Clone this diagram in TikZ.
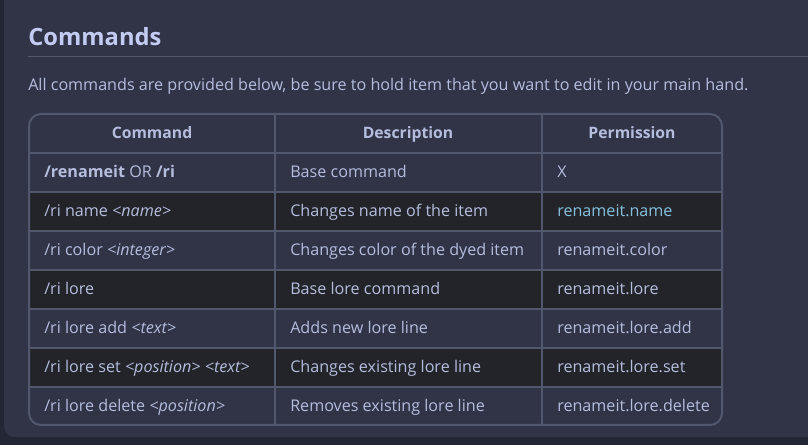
\documentclass[tikz,border=0pt]{standalone}
\usepackage{fontspec}
\setmainfont{Open Sans}
\definecolor{base}{HTML}{303446}
\definecolor{crust}{HTML}{232634}
\definecolor{rowdark}{HTML}{232429}
\definecolor{txt}{HTML}{B5BDDD}
\definecolor{head}{HTML}{C4CBF2}
\definecolor{bord}{HTML}{51576D}
\definecolor{link}{HTML}{85C1DC}
\begin{document}
\begin{tikzpicture}[x=0.75pt,y=-0.75pt,
  cell/.style={anchor=base west,text=txt,font=\fontsize{12.1}{13}\selectfont,inner sep=0},
  hcell/.style={anchor=base,text=txt,font=\fontsize{11.8}{13}\selectfont\bfseries,inner sep=0}]
\useasboundingbox (0,0) rectangle (808,445);
\clip (0,0) rectangle (808,445);
\fill[crust] (0,0) rectangle (808,445);
\fill[base,rounded corners=8] (4,-20) rectangle (830,437);
\node[anchor=base west,text=head,font=\fontsize{17.8}{20}\selectfont\bfseries,inner sep=0] (title) at (28,46) {Commands};
\draw[bord] (28,56.5) -- (808,56.5);
\node[cell] (intro) at (28,90.5) {All commands are provided below, be sure to hold item that you want to edit in your main hand.};
\begin{scope}
\clip[rounded corners=9] (29,114) rectangle (722,425);
\foreach \y in {192,270,348}{\fill[rowdark] (29,\y) rectangle (722,\y+39);}
\end{scope}
\draw[bord,line width=1.5,rounded corners=9] (29,114) rectangle (722,425);
\foreach \y in {153,192,231,270,309,348,387}{\draw[bord,line width=1.5] (29,\y) -- (722,\y);}
\draw[bord,line width=1.5] (275,114) -- (275,425);
\draw[bord,line width=1.5] (542,114) -- (542,425);
\node[hcell] (h1) at (152,138.5) {Command};
\node[hcell] (h2) at (408,138.5) {Description};
\node[hcell] (h3) at (632,138.5) {Permission};
\foreach \i/\a/\b/\c in {
 1/{\textbf{/renameit} OR \textbf{/ri}}/{Base command}/{X},
 2/{/ri name \textit{<name>}}/{Changes name of the item}/{\textcolor{link}{renameit.name}},
 3/{/ri color \textit{<integer>}}/{Changes color of the dyed item}/{renameit.color},
 4/{/ri lore}/{Base lore command}/{renameit.lore},
 5/{/ri lore add \textit{<text>}}/{Adds new lore line}/{renameit.lore.add},
 6/{/ri lore set \textit{<position>} \textit{<text>}}/{Changes existing lore line}/{renameit.lore.set},
 7/{/ri lore delete \textit{<position>}}/{Removes existing lore line}/{renameit.lore.delete}}{
 \node[cell] (a\i) at (44,138.5+39*\i) {\a};
 \node[cell] (b\i) at (290,138.5+39*\i) {\b};
 \node[cell] (c\i) at (557,138.5+39*\i) {\c};
}
\end{tikzpicture}
\end{document}
